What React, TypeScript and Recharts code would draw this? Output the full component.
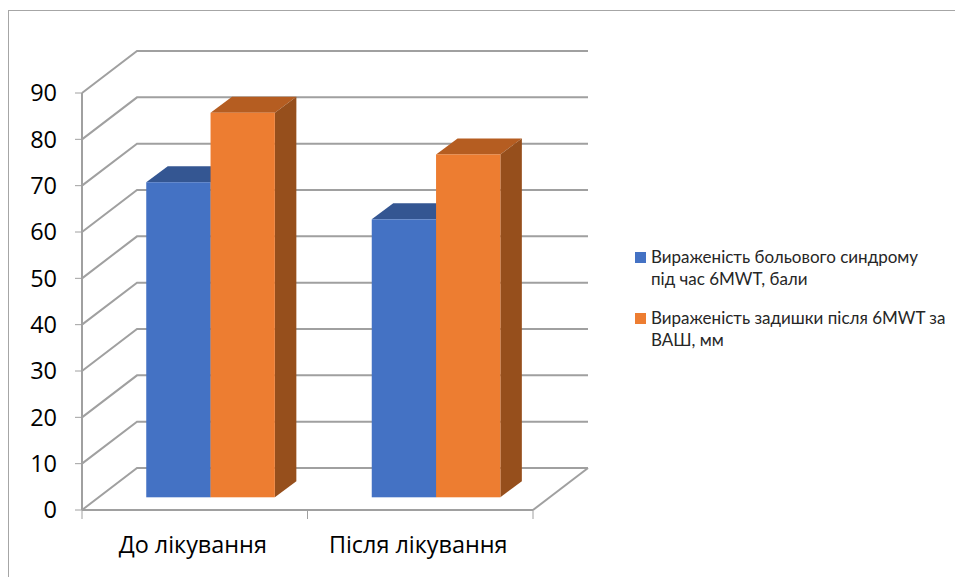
import { Bar, BarChart, CartesianGrid, Legend, XAxis, YAxis } from "recharts";

const categories = ["До лікування", "Після лікування"];
const painValues = [68, 60];
const dyspneaValues = [83, 74];
const yTicks = [0, 10, 20, 30, 40, 50, 60, 70, 80, 90];
const seriesNames = [
  "Вираженість больового синдрому\nпід час 6MWT, бали",
  "Вираженість задишки після 6MWT за\nВАШ, мм",
];

const data = categories.map((name, i) => ({
  name,
  pain: painValues[i],
  dyspnea: dyspneaValues[i],
}));

const AXIS_COLOR = "#a0a0a0";
const AXIS_FONT = "'Open Sans', sans-serif";
const LEGEND_FONT = "Lato, 'Open Sans', sans-serif";

// fake perspective: how far the back wall sits from the front plane
const WALL_DX = 55;
const WALL_DY = -42;
const BAR_DX = 21.5;
const BAR_DY = -16;
const BAR_SHIFT_X = 16.25;
const BAR_SHIFT_Y = -12.7;
const BAND_WIDTH = 225.5;

function wallLine(props: any) {
  const { x1, x2, y1, index } = props;
  const isFloor = Math.abs(y1 - 510) < 1;
  const backX = x1 + WALL_DX;
  const backY = y1 + WALL_DY;
  return (
    <g key={index}>
      <polyline
        points={`${x1},${y1} ${backX},${backY} ${x2 + WALL_DX},${backY}`}
        fill="none"
        stroke={AXIS_COLOR}
        strokeWidth={2}
      />
      {isFloor && (
        <line x1={x2} y1={y1} x2={x2 + WALL_DX} y2={backY} stroke={AXIS_COLOR} strokeWidth={2} />
      )}
    </g>
  );
}

function makeBox(front: string, top: string, side: string) {
  return function Box(props: any) {
    const x = props.x + BAR_SHIFT_X;
    const y = props.y + BAR_SHIFT_Y;
    const { width, height } = props;
    const r = x + width;
    const b = y + height;
    return (
      <g>
        <polygon
          points={`${x},${y} ${x + BAR_DX},${y + BAR_DY} ${r + BAR_DX},${y + BAR_DY} ${r},${y}`}
          fill={top}
        />
        <polygon
          points={`${r},${y} ${r + BAR_DX},${y + BAR_DY} ${r + BAR_DX},${b + BAR_DY} ${r},${b}`}
          fill={side}
        />
        <rect x={x} y={y} width={width} height={height} fill={front} />
      </g>
    );
  };
}

const PainBox = makeBox("#4472c4", "#345692", "#2f5391");
const DyspneaBox = makeBox("#ed7d31", "#b55d21", "#964f1c");

function CategoryTick(props: any) {
  const { x, y, payload, index } = props;
  return (
    <g>
      <line x1={x - BAND_WIDTH / 2} y1={y} x2={x - BAND_WIDTH / 2} y2={y + 9} stroke={AXIS_COLOR} />
      {index === categories.length - 1 && (
        <line x1={x + BAND_WIDTH / 2} y1={y} x2={x + BAND_WIDTH / 2} y2={y + 9} stroke={AXIS_COLOR} />
      )}
      <text x={x - 2} y={y + 43} textAnchor="middle" fontSize={23.4} fontFamily={AXIS_FONT} fill="#000">
        {payload.value}
      </text>
    </g>
  );
}

function LegendBox({ payload }: any) {
  return (
    <div style={{ fontFamily: LEGEND_FONT, fontSize: 17, lineHeight: "22px", color: "#262626" }}>
      {payload.map((item: any) => (
        <div key={item.value} style={{ position: "relative", paddingLeft: 16, marginBottom: 17, whiteSpace: "pre-line" }}>
          <span
            style={{ position: "absolute", left: 0, top: 6, width: 11, height: 11, background: item.color }}
          />
          {item.value}
        </div>
      ))}
    </div>
  );
}

export default function App() {
  return (
    <div style={{ position: "absolute", left: 0, top: 0, width: 955, height: 577, background: "#fff", overflow: "hidden" }}>
      <div
        style={{
          position: "absolute",
          left: 8,
          top: 10,
          right: 0,
          bottom: 0,
          borderLeft: "1px solid #a6a6a6",
          borderTop: "1px solid #a6a6a6",
        }}
      />
      <BarChart
        width={955}
        height={577}
        data={data}
        barSize={64.3}
        barGap={0}
        margin={{ top: 93, right: 422, bottom: 27, left: 22 }}
      >
        <CartesianGrid vertical={false} horizontal={wallLine} />
        <XAxis
          dataKey="name"
          height={40}
          interval={0}
          tick={<CategoryTick />}
          tickLine={false}
          tickSize={0}
          tickMargin={0}
          axisLine={{ stroke: AXIS_COLOR, strokeWidth: 2 }}
        />
        <YAxis
          width={60}
          domain={[0, 90]}
          ticks={yTicks}
          interval={0}
          tickSize={7}
          tickMargin={18}
          tick={{ fontSize: 23.5, fontFamily: AXIS_FONT, fill: "#000" }}
          tickLine={{ stroke: AXIS_COLOR }}
          axisLine={{ stroke: AXIS_COLOR, strokeWidth: 2 }}
        />
        <Legend
          layout="vertical"
          align="center"
          verticalAlign="middle"
          content={<LegendBox />}
          wrapperStyle={{ left: 635, top: 246, width: 320 }}
        />
        <Bar dataKey="pain" name={seriesNames[0]} fill="#4472c4" shape={PainBox} isAnimationActive={false} />
        <Bar dataKey="dyspnea" name={seriesNames[1]} fill="#ed7d31" shape={DyspneaBox} isAnimationActive={false} />
      </BarChart>
    </div>
  );
}
